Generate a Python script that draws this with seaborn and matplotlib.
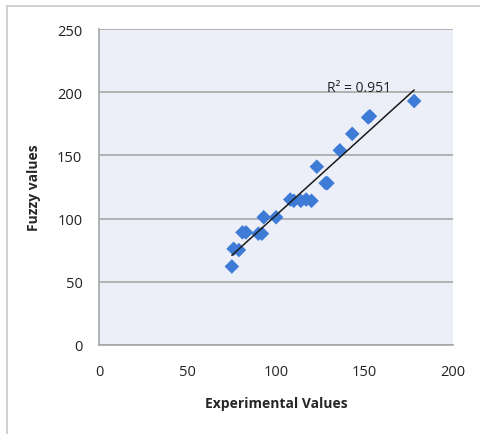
import numpy as np
import pandas as pd
import matplotlib.pyplot as plt
import seaborn as sns
from matplotlib.lines import Line2D

# values
experimental = [75, 76, 79, 81, 83, 90, 92, 93, 100, 108, 110, 114, 117, 120,
                123, 128, 129, 136, 143, 152, 153, 178]
fuzzy = [62, 76, 75, 89, 89, 88, 88, 101, 101, 115, 114, 114, 115, 114,
         141, 128, 128, 154, 167, 180, 181, 193]
r2_label = "R² = 0.951"

df = pd.DataFrame({"Experimental Values": experimental, "Fuzzy values": fuzzy})

sns.set_style("whitegrid", {"axes.facecolor": "#ECEFF8",
                            "grid.color": "#A6A6A6",
                            "axes.edgecolor": "#A6A6A6"})
plt.rcParams["font.family"] = ["Open Sans", "DejaVu Sans"]

fig = plt.figure(figsize=(4.81, 4.35), dpi=100)
ax = fig.add_axes([0.206, 0.205, 0.736, 0.726])

sns.regplot(x="Experimental Values", y="Fuzzy values", data=df, ax=ax, ci=None,
            marker="D",
            scatter_kws={"s": 55, "color": "#3D7BD6", "edgecolor": "none", "alpha": 1, "zorder": 3},
            line_kws={"color": "#1A1A1A", "linewidth": 1.1, "zorder": 4})

ax.set_xlim(0, 200)
ax.set_ylim(0, 250)
ax.set_xticks([0, 50, 100, 150, 200])
ax.set_yticks([0, 50, 100, 150, 200, 250])
ax.grid(axis="x", visible=False)
ax.grid(axis="y", linewidth=1.2)
ax.tick_params(axis="x", length=0, pad=14, labelsize=10.5, colors="#222222")
ax.tick_params(axis="y", length=0, pad=12, labelsize=10.5, colors="#222222")
for side in ["top", "right"]:
    ax.spines[side].set_visible(False)
ax.spines["left"].set_linewidth(1.2)
ax.spines["bottom"].set_linewidth(1.2)

ax.set_xlabel("Experimental Values", fontsize=10, fontweight="bold", labelpad=12)
ax.set_ylabel("Fuzzy values", fontsize=10, fontweight="bold", labelpad=12)

ax.text(129, 204, r2_label, fontsize=10, ha="left", va="center", color="#222222")

# chart frame (top and left edges)
fig.add_artist(Line2D([7 / 481, 1], [1 - 7 / 435, 1 - 7 / 435], color="#C8C8C8", lw=1.2))
fig.add_artist(Line2D([7 / 481, 7 / 481], [0, 1 - 7 / 435], color="#C8C8C8", lw=1.2))

fig.savefig("out.png", dpi=100)
